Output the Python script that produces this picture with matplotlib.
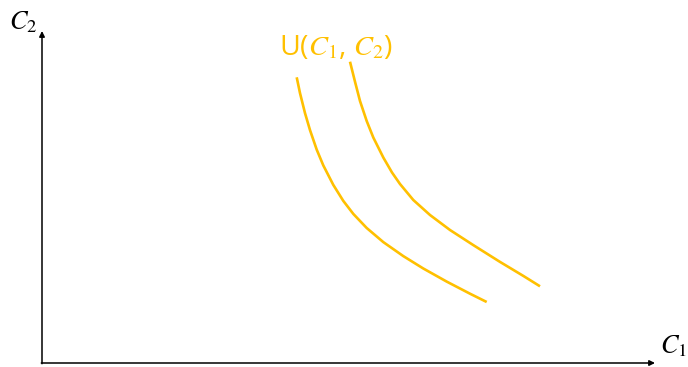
import matplotlib
matplotlib.use('Agg')
import matplotlib.pyplot as plt

plt.rcParams['mathtext.fontset'] = 'stix'

# indifference curves, x measured from the origin to the right, y from the origin upward
u1_x = [254.7, 258, 263, 268, 274.7, 281.3, 291.3, 301.3, 311.3, 324.7,
        341.3, 361.3, 381.3, 404.7, 428, 444.7]
u1_y = [285.7, 269.9, 249.9, 232.9, 213.4, 197.6, 178.1, 162.1, 149.1, 135.0,
        120.9, 106.9, 94.5, 81.4, 69.3, 61.0]
u2_x = [308, 313, 318, 324.7, 331.3, 341.3, 350, 358, 371.3, 388,
        408, 431.3, 458, 481.3, 498]
u2_y = [301.3, 281.3, 262.0, 242.0, 225.5, 205.5, 190.5, 179.0, 163.0, 148.0,
        133.0, 117.9, 101.1, 87.1, 76.7]

curve_color = '#FFC000'

fig = plt.figure(figsize=(6.88, 3.67), dpi=100)
ax = fig.add_axes([0, 0, 1, 1])
ax.set_xlim(-42, 646)
ax.set_ylim(-4, 363)
ax.axis('off')

ax.plot(u1_x, u1_y, color=curve_color, lw=1.9, solid_capstyle='butt', solid_joinstyle='round')
ax.plot(u2_x, u2_y, color=curve_color, lw=1.9, solid_capstyle='butt', solid_joinstyle='round')

# axes with arrows
ax.annotate('', xy=(613, 0), xytext=(-0.7, 0),
            arrowprops=dict(arrowstyle='-|>', color='black', lw=1.1,
                            mutation_scale=8, shrinkA=0, shrinkB=0))
ax.annotate('', xy=(0, 332), xytext=(0, -0.7),
            arrowprops=dict(arrowstyle='-|>', color='black', lw=1.1,
                            mutation_scale=8, shrinkA=0, shrinkB=0))

ax.text(-33, 341, r'$C_2$', fontsize=19, ha='left', va='center')
ax.text(618, 17, r'$C_1$', fontsize=19, ha='left', va='center')
ax.text(237, 315, r'U($C_1$, $C_2$)', fontsize=20.5, color=curve_color,
        ha='left', va='center', family='Open Sans')

fig.savefig('out.png', dpi=100)
